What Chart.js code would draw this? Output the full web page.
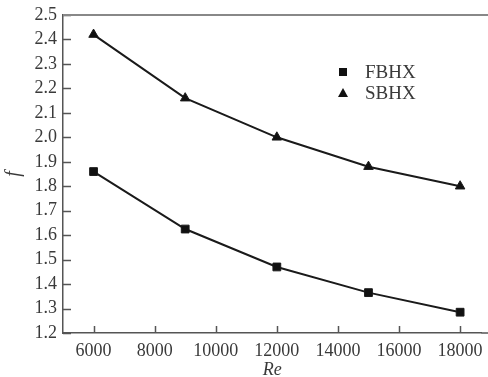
<!DOCTYPE html>
<html>
<head>
<meta charset="utf-8">
<script src="https://cdn.jsdelivr.net/npm/chart.js@4.4.0/dist/chart.umd.min.js"></script>
<style>
  html, body { margin: 0; padding: 0; background: #fff; }
  #wrap { width: 488px; height: 377px; position: relative; }
</style>
</head>
<body>
<div id="wrap"><canvas id="chart"></canvas></div>
<script>
// Dati
const reValues = [6000, 9000, 12000, 15000, 18000];
const fbhx = [1.86, 1.625, 1.47, 1.365, 1.285];
const sbhx = [2.42, 2.16, 2.0, 1.88, 1.80];
const xTicks = [6000, 8000, 10000, 12000, 14000, 16000, 18000];
const seriesNames = ['FBHX', 'SBHX'];

const FONT = '"Liberation Serif", "Times New Roman", serif';
const TEXT = '#3a3a3a';
const AXIS = '#555';

// tacche interne, bordo superiore e legenda
const decorPlugin = {
    id: 'decor',
    afterDraw(chart) {
        const ctx = chart.ctx;
        const area = chart.chartArea;
        const x = chart.scales.x;
        const y = chart.scales.y;
        ctx.save();
        ctx.strokeStyle = AXIS;
        ctx.lineWidth = 1.5;
        ctx.beginPath();
        x.ticks.forEach(t => {
            const px = Math.round(x.getPixelForValue(t.value)) + 0.5;
            ctx.moveTo(px, area.bottom);
            ctx.lineTo(px, area.bottom - 7);
        });
        y.ticks.forEach(t => {
            const py = Math.round(y.getPixelForValue(t.value)) + 0.5;
            ctx.moveTo(area.left, py);
            ctx.lineTo(area.left + 8, py);
        });
        ctx.stroke();

        // asse x e bordo superiore fino al bordo della figura
        ctx.beginPath();
        ctx.moveTo(area.right, area.bottom);
        ctx.lineTo(chart.width, area.bottom);
        ctx.stroke();
        ctx.strokeStyle = '#888';
        ctx.lineWidth = 2;
        ctx.beginPath();
        ctx.moveTo(area.left, area.top);
        ctx.lineTo(chart.width, area.top);
        ctx.stroke();

        // legenda
        const lx = 343, ly = 72, gap = 21;
        ctx.fillStyle = '#111';
        ctx.fillRect(lx - 4, ly - 4, 8, 8);
        ctx.beginPath();
        ctx.moveTo(lx, ly + gap - 5);
        ctx.lineTo(lx + 5, ly + gap + 4);
        ctx.lineTo(lx - 5, ly + gap + 4);
        ctx.closePath();
        ctx.fill();
        ctx.fillStyle = TEXT;
        ctx.font = '19px ' + FONT;
        ctx.textBaseline = 'middle';
        ctx.fillText(seriesNames[0], 365, ly + 1);
        ctx.fillText(seriesNames[1], 365, ly + gap + 1);
        ctx.restore();
    }
};

const makeData = (vals) => reValues.map((r, i) => ({ x: r, y: vals[i] }));

new Chart(document.getElementById('chart'), {
    type: 'line',
    data: {
        datasets: [
            {
                label: seriesNames[0],
                data: makeData(fbhx),
                borderColor: '#1a1a1a',
                backgroundColor: '#111',
                borderWidth: 2,
                pointStyle: 'rect',
                pointRadius: 5.5,
                pointBorderWidth: 1,
                tension: 0
            },
            {
                label: seriesNames[1],
                data: makeData(sbhx),
                borderColor: '#1a1a1a',
                backgroundColor: '#111',
                borderWidth: 2,
                pointStyle: 'triangle',
                pointRadius: 5.5,
                pointBorderWidth: 1,
                tension: 0
            }
        ]
    },
    options: {
        responsive: true,
        maintainAspectRatio: false,
        animation: false,
        layout: { padding: { top: 15, right: 0, bottom: 0, left: 0 } },
        plugins: {
            legend: { display: false },
            tooltip: { enabled: false }
        },
        scales: {
            x: {
                type: 'linear',
                min: 5000,
                max: 18700,
                afterBuildTicks: (scale) => {
                    scale.ticks = xTicks.map(v => ({ value: v }));
                },
                afterFit: (scale) => {
                    scale.height = 44;
                    scale.paddingLeft = 0;
                    scale.paddingRight = 0;
                },
                grid: { drawOnChartArea: false, drawTicks: false },
                border: { color: AXIS, width: 1.5 },
                ticks: {
                    color: TEXT,
                    font: { family: FONT, size: 18 },
                    padding: 7,
                    maxRotation: 0,
                    autoSkip: false,
                    callback: (v) => String(v)
                },
                title: {
                    display: true,
                    text: 'Re',
                    color: TEXT,
                    font: { family: FONT, size: 18, style: 'italic' },
                    padding: { top: 0, bottom: -4 }
                }
            },
            y: {
                min: 1.2,
                max: 2.5,
                afterFit: (scale) => {
                    scale.width = 63;
                    scale.paddingTop = 0;
                    scale.paddingBottom = 0;
                },
                grid: { drawOnChartArea: false, drawTicks: false },
                border: { color: AXIS, width: 1.5 },
                ticks: {
                    stepSize: 0.1,
                    autoSkip: false,
                    color: TEXT,
                    font: { family: FONT, size: 18 },
                    padding: 6,
                    callback: (v) => v.toFixed(1)
                },
                title: {
                    display: true,
                    text: 'f',
                    color: TEXT,
                    font: { family: FONT, size: 20, style: 'italic' },
                    padding: { top: 2, bottom: 0 }
                }
            }
        }
    },
    plugins: [decorPlugin]
});
</script>
</body>
</html>
